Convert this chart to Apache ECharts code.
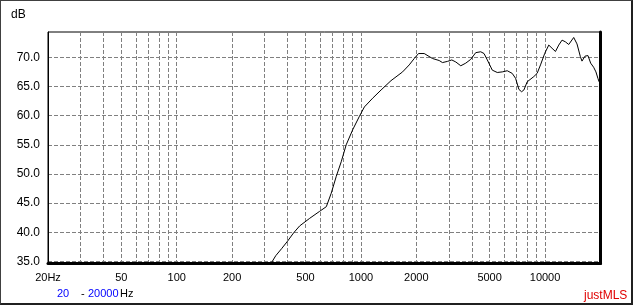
<!DOCTYPE html>
<html>
<head>
<meta charset="utf-8">
<script src="https://cdn.jsdelivr.net/npm/echarts@6/dist/echarts.min.js"></script>
<style>
html,body{margin:0;padding:0;background:#fff;}
#chart{position:absolute;left:0;top:0;width:633px;height:305px;}
#frame{position:absolute;left:0;top:0;width:633px;height:305px;box-sizing:border-box;
 border-left:1px solid #404040;border-top:1px solid #404040;border-right:2px solid #202020;border-bottom:2px solid #202020;pointer-events:none;}
</style>
</head>
<body>
<div id="chart"></div>
<div id="frame"></div>
<script>
// Measured response (frequency in Hz, level in dB)
const freqHz = [324,345,371,400,431,465,527,597,649,690,735,782,832,903,982,1045,1159,1287,1457,1684,1830,1949,2056,2207,2447,2661,2773,2951,3117,3277,3486,3710,3949,4203,4473,4662,4858,5170,5502,5855,6231,6631,6918,7211,7457,7674,7996,8690,9055,9447,9966,10476,10917,11389,11867,12367,12901,13442,14307,14908,15554,15869,16472,17100,17684,18355,18888,19365,19650];
const levelDb = [34.6,36.0,37.2,38.5,39.9,41.1,42.4,43.6,44.4,46.7,49.6,52.1,55.0,57.6,59.9,61.5,63.0,64.4,66.0,67.5,68.7,69.8,70.65,70.65,69.8,69.45,69.1,69.3,69.55,69.2,68.55,69.0,69.65,70.8,70.95,70.65,69.55,67.8,67.4,67.5,67.7,67.25,66.4,64.5,64.1,64.4,65.8,66.7,67.25,68.7,70.7,72.1,71.55,71.0,72.1,72.95,72.65,72.2,73.4,72.3,70.1,69.35,70.2,70.3,69.0,68.3,67.5,66.4,65.8];

// Axis tick labels and grid positions
const xLabelFreqs = [20,50,100,200,500,1000,2000,5000,10000];
const xLabelTexts = ['20Hz','50','100','200','500','1000','2000','5000','10000'];
const xGridFreqs = [30,40,50,60,70,80,90,100,200,300,400,500,600,700,800,900,1000,2000,3000,4000,5000,6000,7000,8000,9000,10000];
const yTicks = [35,40,45,50,55,60,65,70];
const xMinHz = 20, xMaxHz = 20000;
const yMin = 34.66, yMax = 74.34;

const lg = v => Math.log10(v);
const chart = echarts.init(document.getElementById('chart'), null, {renderer:'canvas'});
const font = 'Liberation Sans, Arial, sans-serif';
const gridLine = {show:true, lineStyle:{color:'#808080', width:1, type:[4,2]}};

const option = {
  animation:false,
  backgroundColor:'#ffffff',
  grid:{left:48, top:32, width:552.5, height:231.5, show:true, borderColor:'#000', borderWidth:1, containLabel:false},
  xAxis:{
    type:'value', min:lg(xMinHz), max:lg(xMaxHz),
    axisLine:{show:true, onZero:false, lineStyle:{color:'#000', width:3}},
    axisTick:{show:false, customValues:xGridFreqs.map(lg)},
    splitLine:gridLine,
    axisLabel:{
      customValues:xLabelFreqs.map(lg),
      color:'#000', fontFamily:font, fontSize:11, margin:9,
      formatter:function(v){
        for(let i=0;i<xLabelFreqs.length;i++){ if(Math.abs(lg(xLabelFreqs[i])-v)<1e-6) return xLabelTexts[i]; }
        return '';
      }
    }
  },
  yAxis:[{
    type:'value', min:yMin, max:yMax,
    axisLine:{show:true, onZero:false, lineStyle:{color:'#000', width:1}},
    axisTick:{show:false, customValues:yTicks},
    splitLine:gridLine,
    axisLabel:{customValues:yTicks, color:'#000', fontFamily:font, fontSize:12, margin:8,
      formatter:v=>v.toFixed(1)}
  },{
    type:'value', position:'right', min:yMin, max:yMax,
    axisLine:{show:true, onZero:false, lineStyle:{color:'#000', width:3}},
    axisTick:{show:false}, splitLine:{show:false}, axisLabel:{show:false}
  }],
  graphic:[
    {type:'text', left:11, top:9, style:{text:'dB', fill:'#000', font:'12px '+font}},
    {type:'text', left:57, top:288, style:{text:'20', fill:'#0000ff', font:'11px '+font}},
    {type:'text', left:81, top:288, style:{text:'-', fill:'#000', font:'11px '+font}},
    {type:'text', left:88, top:288, style:{text:'20000', fill:'#0000ff', font:'11px '+font}},
    {type:'text', left:120, top:288, style:{text:'Hz', fill:'#000', font:'11px '+font}},
    {type:'text', left:584, top:290, style:{text:'justMLS', fill:'#e00000', font:'12px '+font}}
  ],
  series:[{
    type:'line', xAxisIndex:0, yAxisIndex:0,
    data:freqHz.map((f,i)=>[lg(f), levelDb[i]]),
    showSymbol:false, symbol:'none', smooth:false, clip:true,
    lineStyle:{color:'#000', width:1}
  }]
};
chart.setOption(option);
</script>
</body>
</html>
